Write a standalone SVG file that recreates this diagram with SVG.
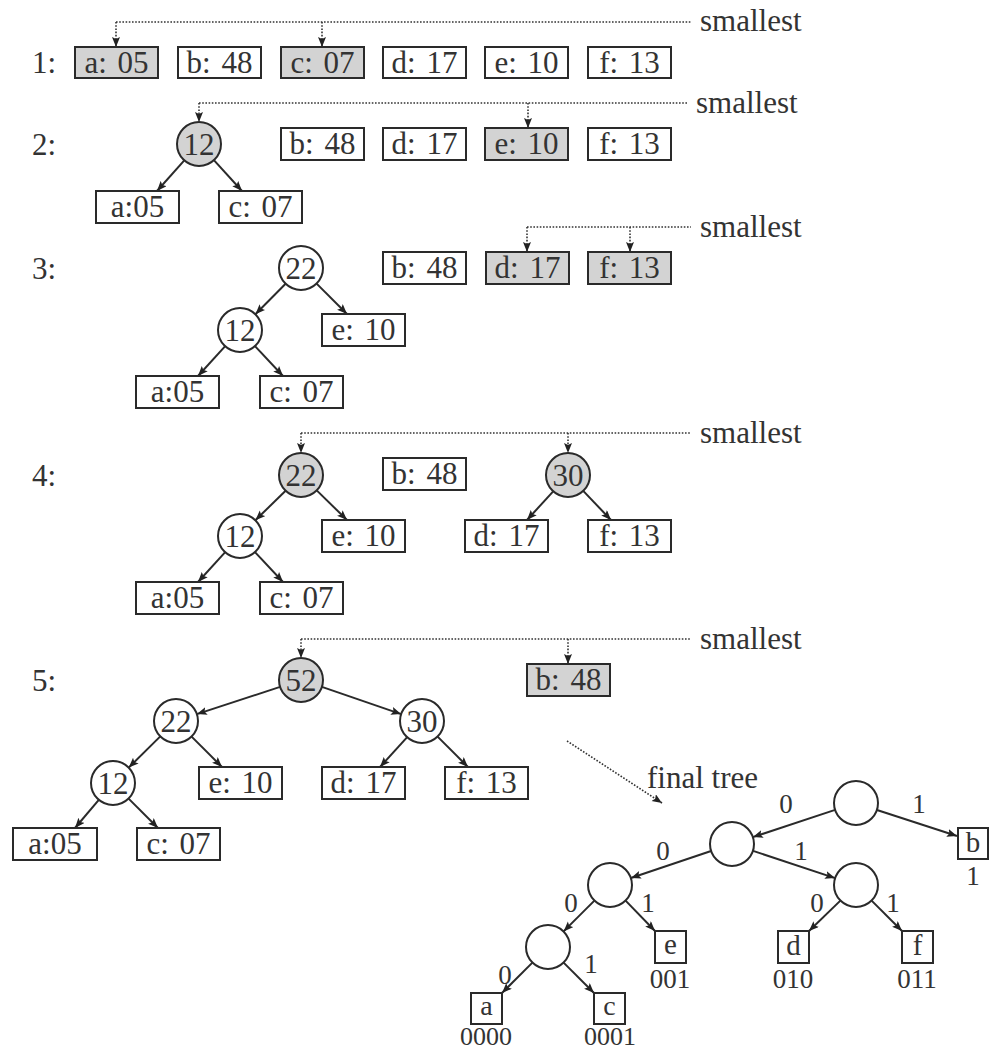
<svg xmlns="http://www.w3.org/2000/svg" width="989" height="1051" viewBox="0 0 989 1051">
<style>
text{font-family:"Liberation Serif","DejaVu Serif",serif;fill:#333}
.t{font-size:31px;text-anchor:middle;word-spacing:3px}
.lt{font-size:29px;text-anchor:middle}
.lta{font-size:28px;text-anchor:middle}
.lbl{font-size:31px}
.sm{font-size:31px}
.e{font-size:27px;text-anchor:middle}
.code{font-size:27px;text-anchor:middle}
.codea{font-size:26px;text-anchor:middle}
.b{fill:#fff;stroke:#2a2a2a;stroke-width:2}
.s{fill:#d3d3d3;stroke:#2a2a2a;stroke-width:2}
.ed{stroke:#2a2a2a;stroke-width:2;fill:none;marker-end:url(#ah)}
.dot{stroke:#333;stroke-width:1.6;stroke-dasharray:1.6 1.6;fill:none}
.dd{stroke:#333;stroke-width:1.6;stroke-dasharray:1.6 1.6;fill:none;marker-end:url(#ah)}
</style>
<defs>
<marker id="ah" markerUnits="userSpaceOnUse" markerWidth="11" markerHeight="9" refX="10" refY="4" orient="auto">
<path d="M0,0 L10,4 L0,8 L2,4 z" fill="#222"/>
</marker>
</defs>
<rect width="989" height="1051" fill="#fff"/>

<g id="labels">
<text class="lbl" x="32" y="73">1:</text>
<text class="lbl" x="32" y="155">2:</text>
<text class="lbl" x="32" y="279">3:</text>
<text class="lbl" x="32" y="486">4:</text>
<text class="lbl" x="32" y="691">5:</text>
<text class="sm" x="700" y="31">smallest</text>
<text class="sm" x="696" y="113">smallest</text>
<text class="sm" x="700" y="237">smallest</text>
<text class="sm" x="700" y="443">smallest</text>
<text class="sm" x="700" y="649">smallest</text>
<text class="sm" x="647" y="788">final tree</text>
</g>

<g id="connectors">
<path class="dot" d="M116,22 H692"/>
<path class="dd" d="M116,22 V47"/>
<path class="dd" d="M322,22 V47"/>
<path class="dot" d="M199,103 H687"/>
<path class="dd" d="M199,103 V122"/>
<path class="dd" d="M528,103 V128"/>
<path class="dot" d="M527,227 H691"/>
<path class="dd" d="M527,227 V252"/>
<path class="dd" d="M630,227 V252"/>
<path class="dot" d="M301,433 H691"/>
<path class="dd" d="M301,433 V453"/>
<path class="dd" d="M568,433 V453"/>
<path class="dot" d="M301,639 H690"/>
<path class="dd" d="M301,639 V658"/>
<path class="dd" d="M568,639 V664"/>
<path class="dd" d="M567,741 L662,803"/>
<line class="ed" x1="184.3" y1="160.4" x2="157" y2="191"/>
<line class="ed" x1="213.9" y1="160.2" x2="242" y2="191"/>
<line class="ed" x1="285.6" y1="283.7" x2="255.4" y2="314.3"/>
<line class="ed" x1="316.6" y1="283.6" x2="347" y2="314"/>
<line class="ed" x1="225.2" y1="346.2" x2="198" y2="376"/>
<line class="ed" x1="255" y1="346.1" x2="283" y2="376"/>
<line class="ed" x1="285.6" y1="490.7" x2="255.4" y2="520.3"/>
<line class="ed" x1="316.7" y1="490.4" x2="347" y2="520"/>
<line class="ed" x1="225.2" y1="552.2" x2="198" y2="582"/>
<line class="ed" x1="255" y1="552.1" x2="283" y2="582"/>
<line class="ed" x1="553.2" y1="491.3" x2="527" y2="520"/>
<line class="ed" x1="583.2" y1="490.9" x2="611" y2="520"/>
<line class="ed" x1="280.1" y1="686.9" x2="196.9" y2="714.1"/>
<line class="ed" x1="321.9" y1="686.9" x2="401.1" y2="714.1"/>
<line class="ed" x1="160.3" y1="736.4" x2="128.7" y2="767.6"/>
<line class="ed" x1="191.6" y1="736.6" x2="222" y2="767"/>
<line class="ed" x1="407.2" y1="737.2" x2="380" y2="767"/>
<line class="ed" x1="437.6" y1="736.6" x2="468" y2="767"/>
<line class="ed" x1="98.8" y1="799.8" x2="75" y2="828"/>
<line class="ed" x1="128.6" y1="798.6" x2="158" y2="828"/>
<line class="ed" x1="835.1" y1="809.9" x2="752.9" y2="837.1"/>
<line class="ed" x1="877" y1="810" x2="957" y2="836"/>
<line class="ed" x1="711.1" y1="851" x2="630.9" y2="878"/>
<line class="ed" x1="753.1" y1="850.9" x2="835.1" y2="878.1"/>
<line class="ed" x1="594.4" y1="900.6" x2="563.6" y2="931.4"/>
<line class="ed" x1="625.6" y1="900.6" x2="655" y2="931"/>
<line class="ed" x1="840.4" y1="900.6" x2="809" y2="931"/>
<line class="ed" x1="871.6" y1="900.6" x2="902" y2="931"/>
<line class="ed" x1="532.4" y1="962.6" x2="502" y2="993"/>
<line class="ed" x1="563.6" y1="962.6" x2="594" y2="993"/>
</g>

<g id="r1-a"><rect class="s" x="75" y="47" width="83" height="31"/><text class="t" x="116.5" y="73">a: 05</text></g>
<g id="r1-b"><rect class="b" x="178" y="47" width="83" height="31"/><text class="t" x="219.5" y="73">b: 48</text></g>
<g id="r1-c"><rect class="s" x="281" y="47" width="83" height="31"/><text class="t" x="322.5" y="73">c: 07</text></g>
<g id="r1-d"><rect class="b" x="383" y="47" width="83" height="31"/><text class="t" x="424.5" y="73">d: 17</text></g>
<g id="r1-e"><rect class="b" x="485" y="47" width="83" height="31"/><text class="t" x="526.5" y="73">e: 10</text></g>
<g id="r1-f"><rect class="b" x="588" y="47" width="83" height="31"/><text class="t" x="629.5" y="73">f: 13</text></g>

<g id="r2-n12"><circle class="s" cx="199" cy="144" r="22"/><text class="t" x="199" y="155">12</text></g>
<g id="r2-b"><rect class="b" x="281" y="128" width="83" height="32"/><text class="t" x="322.5" y="154">b: 48</text></g>
<g id="r2-d"><rect class="b" x="383" y="128" width="83" height="32"/><text class="t" x="424.5" y="154">d: 17</text></g>
<g id="r2-e"><rect class="s" x="485" y="128" width="83" height="32"/><text class="t" x="526.5" y="154">e: 10</text></g>
<g id="r2-f"><rect class="b" x="588" y="128" width="83" height="32"/><text class="t" x="629.5" y="154">f: 13</text></g>
<g id="r2-a"><rect class="b" x="96" y="191" width="83" height="32"/><text class="t" x="137.5" y="217">a:05</text></g>
<g id="r2-c"><rect class="b" x="219" y="191" width="83" height="32"/><text class="t" x="260.5" y="217">c: 07</text></g>

<g id="r3-n22"><circle class="b" cx="301" cy="268" r="22"/><text class="t" x="301" y="279">22</text></g>
<g id="r3-b"><rect class="b" x="383" y="252" width="83" height="32"/><text class="t" x="424.5" y="278">b: 48</text></g>
<g id="r3-d"><rect class="s" x="486" y="252" width="83" height="32"/><text class="t" x="527.5" y="278">d: 17</text></g>
<g id="r3-f"><rect class="s" x="588" y="252" width="83" height="32"/><text class="t" x="629.5" y="278">f: 13</text></g>
<g id="r3-n12"><circle class="b" cx="240" cy="330" r="22"/><text class="t" x="240" y="341">12</text></g>
<g id="r3-e"><rect class="b" x="322" y="314" width="83" height="32"/><text class="t" x="363.5" y="340">e: 10</text></g>
<g id="r3-a"><rect class="b" x="136" y="376" width="83" height="32"/><text class="t" x="177.5" y="402">a:05</text></g>
<g id="r3-c"><rect class="b" x="260" y="376" width="83" height="32"/><text class="t" x="301.5" y="402">c: 07</text></g>

<g id="r4-n22"><circle class="s" cx="301" cy="475" r="22"/><text class="t" x="301" y="486">22</text></g>
<g id="r4-b"><rect class="b" x="383" y="458" width="83" height="32"/><text class="t" x="424.5" y="484">b: 48</text></g>
<g id="r4-n30"><circle class="s" cx="568" cy="475" r="22"/><text class="t" x="568" y="486">30</text></g>
<g id="r4-n12"><circle class="b" cx="240" cy="536" r="22"/><text class="t" x="240" y="547">12</text></g>
<g id="r4-e"><rect class="b" x="322" y="520" width="83" height="32"/><text class="t" x="363.5" y="546">e: 10</text></g>
<g id="r4-d"><rect class="b" x="465" y="520" width="83" height="32"/><text class="t" x="506.5" y="546">d: 17</text></g>
<g id="r4-f"><rect class="b" x="588" y="520" width="83" height="32"/><text class="t" x="629.5" y="546">f: 13</text></g>
<g id="r4-a"><rect class="b" x="136" y="582" width="83" height="32"/><text class="t" x="177.5" y="608">a:05</text></g>
<g id="r4-c"><rect class="b" x="260" y="582" width="83" height="32"/><text class="t" x="301.5" y="608">c: 07</text></g>

<g id="r5-n52"><circle class="s" cx="301" cy="680" r="22"/><text class="t" x="301" y="691">52</text></g>
<g id="r5-b"><rect class="s" x="527" y="664" width="83" height="32"/><text class="t" x="568.5" y="690">b: 48</text></g>
<g id="r5-n22"><circle class="b" cx="176" cy="721" r="22"/><text class="t" x="176" y="732">22</text></g>
<g id="r5-n30"><circle class="b" cx="422" cy="721" r="22"/><text class="t" x="422" y="732">30</text></g>
<g id="r5-n12"><circle class="b" cx="113" cy="783" r="22"/><text class="t" x="113" y="794">12</text></g>
<g id="r5-e"><rect class="b" x="199" y="767" width="83" height="32"/><text class="t" x="240.5" y="793">e: 10</text></g>
<g id="r5-d"><rect class="b" x="322" y="767" width="83" height="32"/><text class="t" x="363.5" y="793">d: 17</text></g>
<g id="r5-f"><rect class="b" x="445" y="767" width="83" height="32"/><text class="t" x="486.5" y="793">f: 13</text></g>
<g id="r5-a"><rect class="b" x="13" y="828" width="84" height="32"/><text class="t" x="55" y="854">a:05</text></g>
<g id="r5-c"><rect class="b" x="137" y="828" width="83" height="32"/><text class="t" x="178.5" y="854">c: 07</text></g>

<g id="ft-root"><circle class="b" cx="856" cy="803" r="22"/></g>
<g id="ft-l1"><circle class="b" cx="732" cy="844" r="22"/></g>
<g id="ft-l2l"><circle class="b" cx="610" cy="885" r="22"/></g>
<g id="ft-l2r"><circle class="b" cx="856" cy="885" r="22"/></g>
<g id="ft-l3"><circle class="b" cx="548" cy="947" r="22"/></g>
<g id="ft-b"><rect class="b" x="958" y="828" width="30" height="31"/><text class="lt" x="973" y="852">b</text><text class="code" x="973" y="885">1</text></g>
<g id="ft-e"><rect class="b" x="655" y="931" width="31" height="32"/><text class="lt" x="670.5" y="954">e</text><text class="code" x="670" y="988">001</text></g>
<g id="ft-d"><rect class="b" x="778" y="931" width="31" height="32"/><text class="lt" x="793.5" y="955">d</text><text class="code" x="793" y="988">010</text></g>
<g id="ft-f"><rect class="b" x="902" y="931" width="31" height="32"/><text class="lt" x="917.5" y="955">f</text><text class="code" x="917" y="988">011</text></g>
<g id="ft-a"><rect class="b" x="471" y="993" width="31" height="31"/><text class="lta" x="486.5" y="1015">a</text><text class="codea" x="486" y="1045">0000</text></g>
<g id="ft-c"><rect class="b" x="594" y="993" width="31" height="31"/><text class="lta" x="609.5" y="1015">c</text><text class="codea" x="610" y="1045">0001</text></g>
<g id="ft-edge-labels">
<text class="e" x="786" y="813">0</text>
<text class="e" x="919" y="813">1</text>
<text class="e" x="663" y="860">0</text>
<text class="e" x="801" y="860">1</text>
<text class="e" x="571" y="912">0</text>
<text class="e" x="648" y="912">1</text>
<text class="e" x="817" y="912">0</text>
<text class="e" x="893" y="912">1</text>
<text class="e" x="505" y="984">0</text>
<text class="e" x="591" y="973">1</text>
</g>
</svg>
